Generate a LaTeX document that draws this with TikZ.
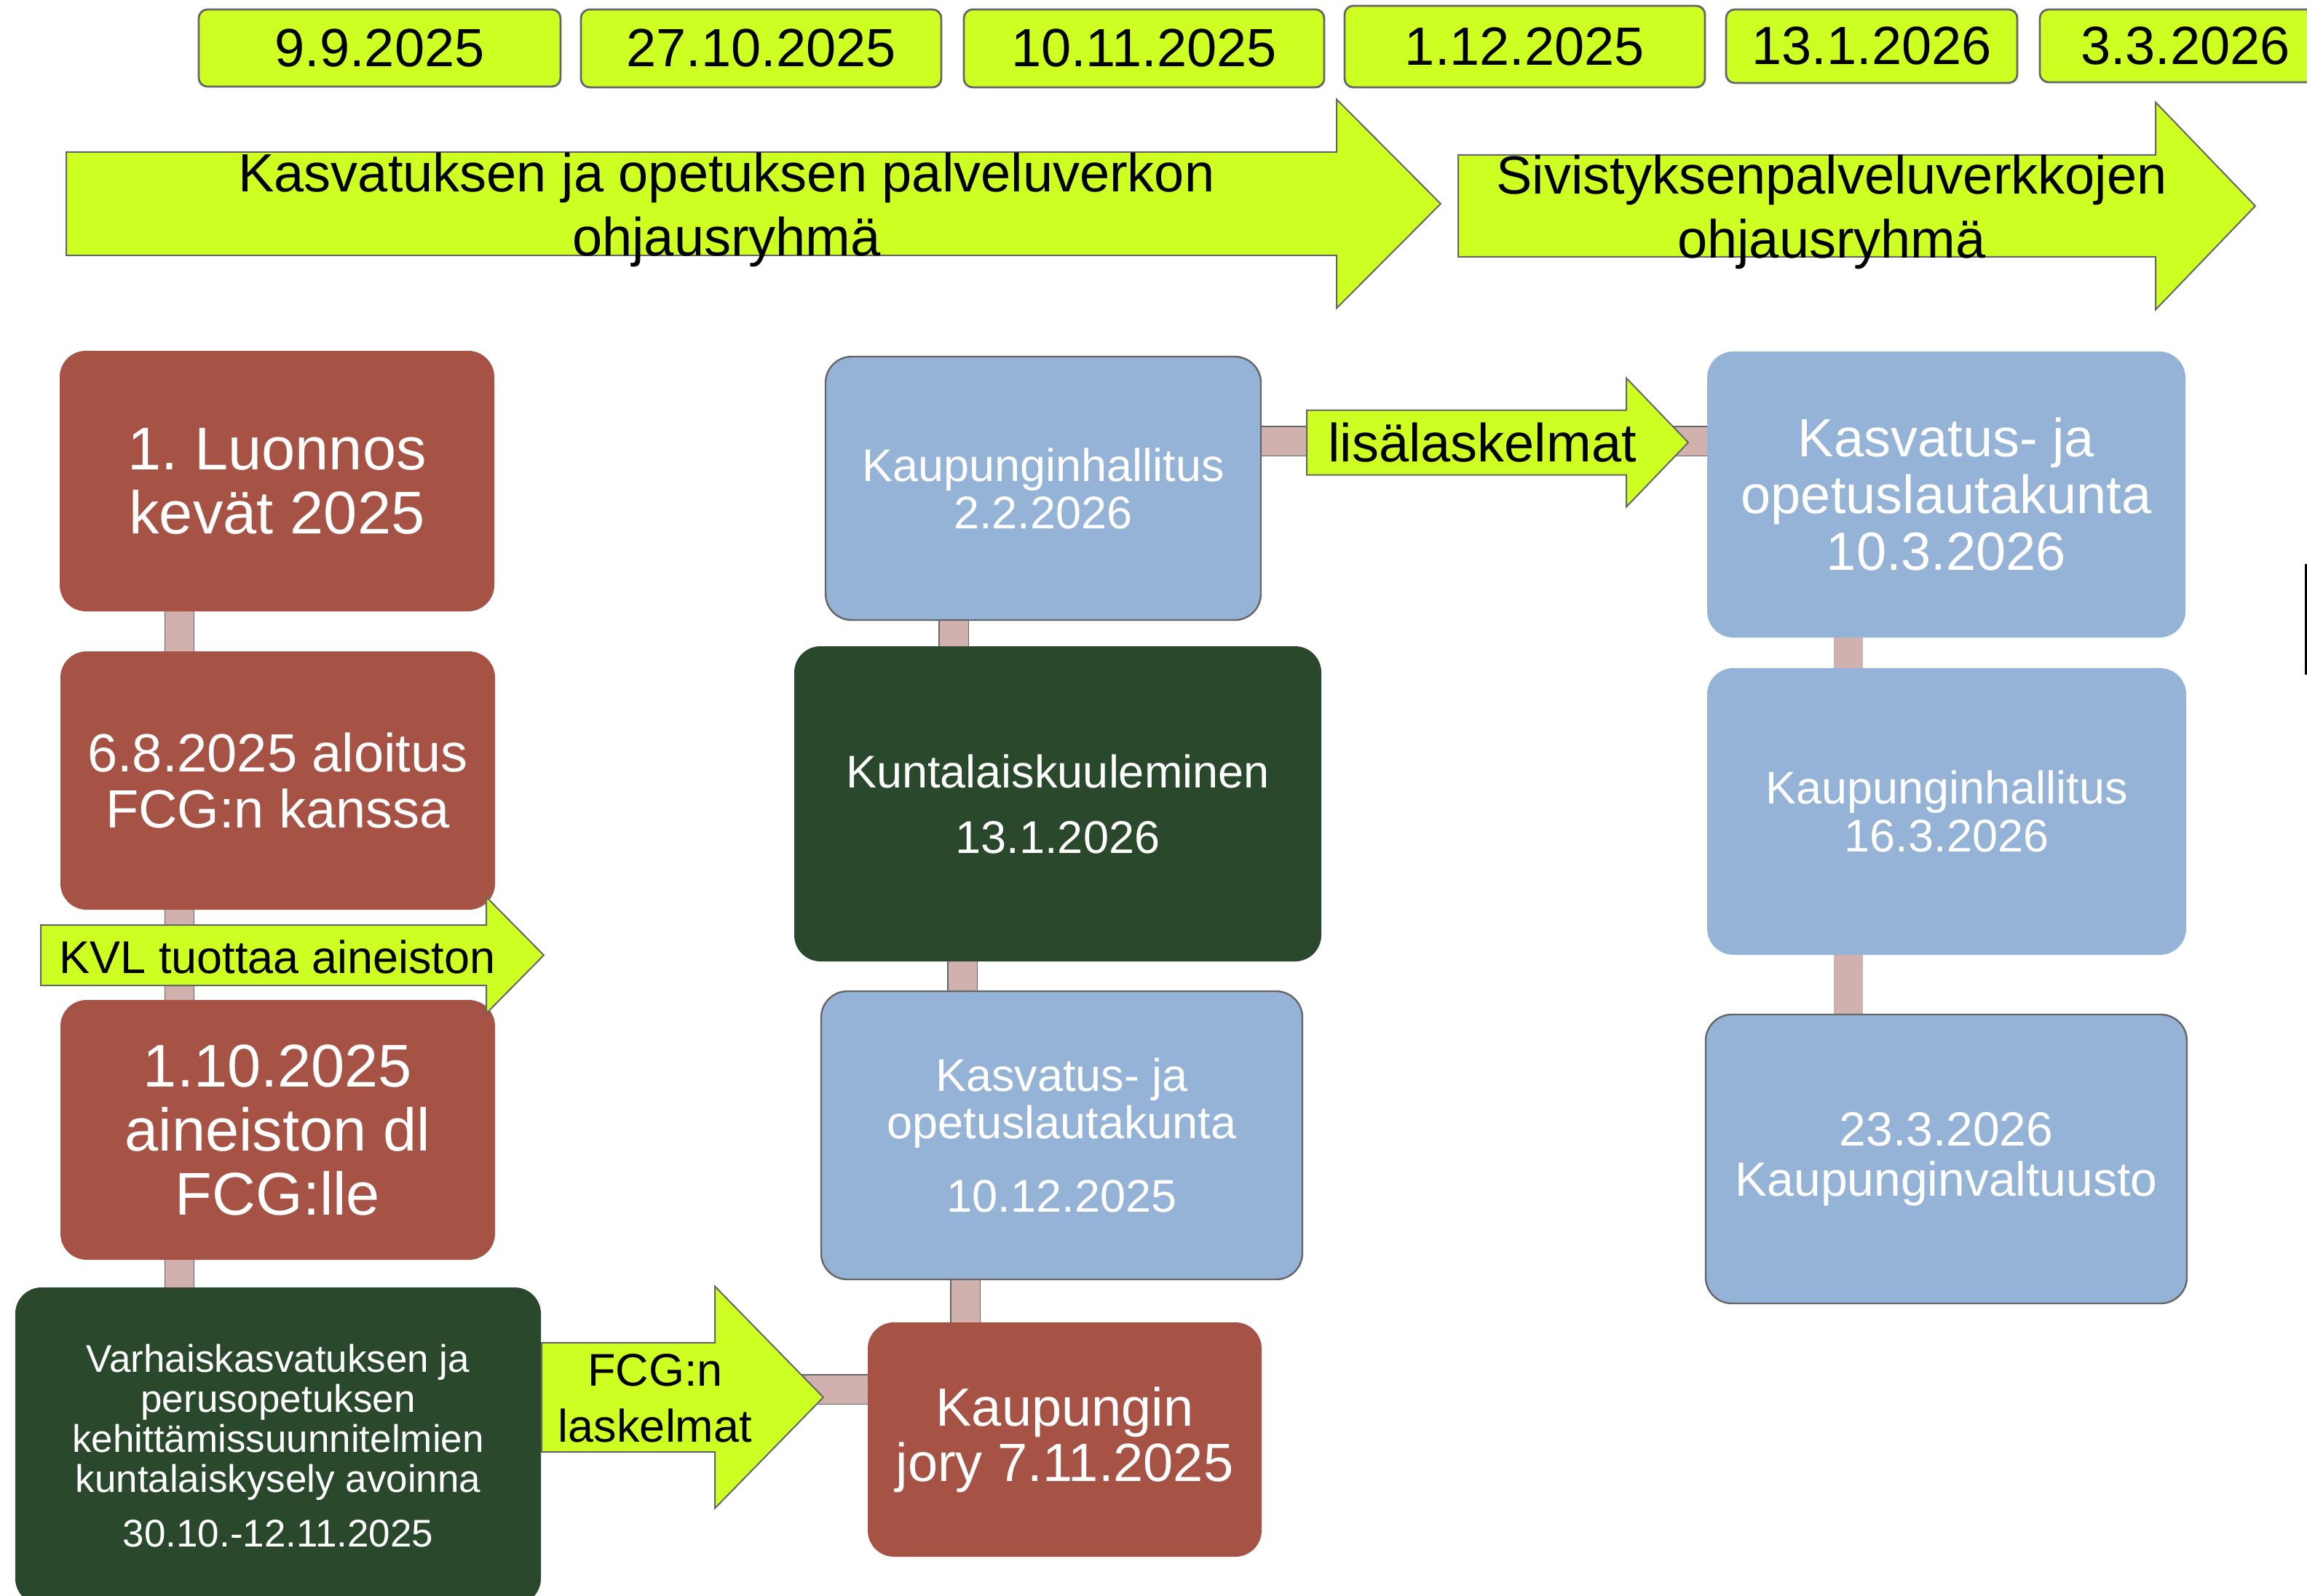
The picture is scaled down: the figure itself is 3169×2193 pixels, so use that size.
\documentclass[tikz,border=0pt]{standalone}
\usepackage{fontspec}
\setmainfont{Liberation Sans}
\usetikzlibrary{calc}
\frenchspacing
\pgfdeclarelayer{background}
\pgfsetlayers{background,main}
\definecolor{lime}{RGB}{205,255,35}
\definecolor{brick}{RGB}{166,82,68}
\definecolor{sky}{RGB}{149,179,215}
\definecolor{forest}{RGB}{41,72,44}
\definecolor{rose}{RGB}{208,177,174}
\definecolor{edgegray}{RGB}{102,102,102}
\tikzset{
  box/.style={rectangle, rounded corners=18pt, inner sep=0pt, align=center, text=white},
  datebox/.style={rectangle, rounded corners=6pt, draw=edgegray, line width=1.4pt, fill=lime,
    inner sep=0pt, text=black, font=\fontsize{37}{40}\selectfont},
  limeshape/.style={fill=lime, draw=edgegray, line width=1pt, line join=miter},
  limetext/.style={align=center, text=black, inner sep=0pt},
  bar/.style={draw=edgegray, line width=0.6pt, double=rose, double distance=19.5pt},
  barplain/.style={draw=rose, line width=20pt},
}
\newcommand\limearrow[6]{% x0,x1,x2,yc,halfbody,halfhead
  \filldraw[limeshape] (#1,#4-#5) -- (#2,#4-#5) -- (#2,#4-#6) -- (#3,#4)
    -- (#2,#4+#6) -- (#2,#4+#5) -- (#1,#4+#5) -- cycle;}
\begin{document}
\frenchspacing
\begin{tikzpicture}[x=0.5pt,y=-0.5pt]
\useasboundingbox (0,0) rectangle (3169,2193);
\clip (0,0) rectangle (3169,2193);

% date boxes
\node[datebox, minimum width=248.5pt, minimum height=53pt]   (d1) at (521.5,66)   {9.9.2025};
\node[datebox, minimum width=247.5pt, minimum height=53.5pt] (d2) at (1045.5,66.5) {27.10.2025};
\node[datebox, minimum width=247.5pt, minimum height=53.5pt] (d3) at (1571.5,66.5) {10.11.2025};
\node[datebox, minimum width=247.5pt, minimum height=56pt]   (d4) at (2094.5,64)  {1.12.2025};
\node[datebox, minimum width=200pt, minimum height=50.5pt]   (d5) at (2571,63.5)  {13.1.2026};
\node[datebox, minimum width=200pt, minimum height=50pt]     (d6) at (3002,63)    {3.3.2026};

% big arrows
\limearrow{91}{1836}{1979}{280}{71}{143.5}
\node[limetext, font=\fontsize{37}{44}\selectfont] (a1) at (998,288)
  {Kasvatuksen ja opetuksen palveluverkon\\ohjausryhmä};
\limearrow{2003}{2961}{3098}{283}{70}{142.5}
\node[limetext, font=\fontsize{37}{44}\selectfont] (a2) at (2516,291)
  {Sivistyksenpalveluverkkojen\\ohjausryhmä};

% left column
\node[box, fill=brick, minimum width=298.5pt, minimum height=179pt,
  font=\fontsize{41.5}{44}\selectfont] (n1) at (380.5,661) {1. Luonnos\\kevät 2025};
\node[box, fill=brick, minimum width=298.5pt, minimum height=177.5pt,
  font=\fontsize{37}{38.5}\selectfont] (n2) at (381.5,1072.5) {6.8.2025 aloitus\\FCG:n kanssa};
\node[box, fill=brick, minimum width=298.5pt, minimum height=178.5pt,
  font=\fontsize{41.5}{44}\selectfont] (n3) at (381.5,1552.5) {1.10.2025\\aineiston dl\\FCG:lle};
\node[box, fill=forest, minimum width=361pt, minimum height=218pt,
  font=\fontsize{26.5}{27.5}\selectfont] (n4) at (382,1987)
  {Varhaiskasvatuksen ja\\perusopetuksen\\kehittämissuunnitelmien\\kuntalaiskysely avoinna\\[10pt]30.10.-12.11.2025};

% middle column
\node[box, fill=brick, minimum width=270.5pt, minimum height=161pt,
  font=\fontsize{37}{38}\selectfont] (n5) at (1462.5,1978) {Kaupungin\\jory 7.11.2025};
\node[box, fill=sky, draw=edgegray, line width=1.2pt, minimum width=330.5pt, minimum height=198pt,
  font=\fontsize{31.5}{32.5}\selectfont] (n6) at (1458.5,1560)
  {Kasvatus- ja\\opetuslautakunta\\[18pt]10.12.2025};
\node[box, fill=forest, minimum width=362pt, minimum height=216.5pt,
  font=\fontsize{31.5}{32.5}\selectfont] (n7) at (1453,1104.5) {Kuntalaiskuuleminen\\[12.5pt]13.1.2026};
\node[box, fill=sky, draw=edgegray, line width=1.2pt, minimum width=299pt, minimum height=181pt,
  font=\fontsize{31.5}{32.5}\selectfont] (n8) at (1433,671) {Kaupunginhallitus\\2.2.2026};

% right column
\node[box, fill=sky, minimum width=328.5pt, minimum height=196.5pt,
  font=\fontsize{37}{39}\selectfont] (n9) at (2673.5,679.5) {Kasvatus- ja\\opetuslautakunta\\10.3.2026};
\node[box, fill=sky, minimum width=329pt, minimum height=197pt,
  font=\fontsize{31.5}{33}\selectfont] (n10) at (2674,1115) {Kaupunginhallitus\\16.3.2026};
\node[box, fill=sky, draw=edgegray, line width=1.2pt, minimum width=330.5pt, minimum height=198.5pt,
  font=\fontsize{33}{34.5}\selectfont] (n11) at (2673.5,1592.5) {23.3.2026\\Kaupunginvaltuusto};

% connecting bars
\begin{pgfonlayer}{background}
\coordinate (cl) at (246.5,0);
\coordinate (cm1) at (1326,0);
\coordinate (cm2) at (1322,0);
\coordinate (cm3) at (1310,0);
\coordinate (cr) at (2539,0);
\coordinate (ch1) at (0,1909);
\coordinate (ch2) at (0,606);
\draw[bar] (n1.south -| cl) -- (n2.north -| cl);
\draw[bar] (n2.south -| cl) -- (n3.north -| cl);
\draw[bar] (n3.south -| cl) -- (n4.north -| cl);
\draw[bar] (n4.east |- ch1) -- (n5.west |- ch1);
\draw[bar] (n5.north -| cm1) -- (n6.south -| cm1);
\draw[bar] (n6.north -| cm2) -- (n7.south -| cm2);
\draw[bar] (n7.north -| cm3) -- (n8.south -| cm3);
\draw[bar] (n8.east |- ch2) -- (n9.west |- ch2);
\draw[barplain] (n9.south -| cr) -- (n10.north -| cr);
\draw[barplain] (n10.south -| cr) -- (n11.north -| cr);
\end{pgfonlayer}

% small lime arrows
\limearrow{56}{668}{747}{1312.5}{41.5}{80}
\node[limetext, font=\fontsize{31.5}{33}\selectfont] (kvl) at (381,1315) {KVL tuottaa aineiston};
\limearrow{744}{982}{1131}{1920}{75}{152.5}
\node[limetext, font=\fontsize{31.5}{38.5}\selectfont] (fcg) at (900,1921) {FCG:n\\laskelmat};
\limearrow{1795}{2234}{2319}{608}{44.5}{88.5}
\node[limetext, font=\fontsize{37}{40}\selectfont] (lisa) at (2036,608) {lisälaskelmat};

% stray mark at right edge
\draw[line width=1.5pt] (3167,775) -- (3167,927);
\end{tikzpicture}
\end{document}
